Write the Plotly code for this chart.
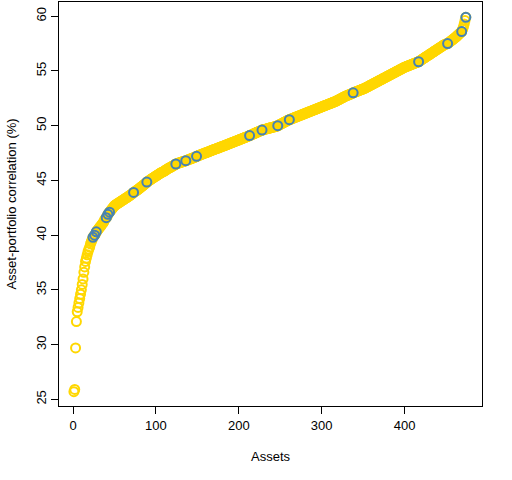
import plotly.graph_objects as go

# sorted asset-portfolio correlations (%), one per asset
correlation = [
    25.7, 25.9, 29.7, 32.1, 33.0, 33.4, 33.8, 34.2, 34.6, 35.0,
    35.5, 36.0, 36.6, 37.1, 37.6, 37.9, 38.2, 38.5, 38.7, 38.9,
    39.2, 39.4, 39.6, 39.8, 39.9, 40.0, 40.1, 40.3, 40.4, 40.5,
    40.6, 40.7, 40.8, 40.9, 41.0, 41.1, 41.2, 41.4, 41.5, 41.6,
    41.7, 41.9, 42.0, 42.1, 42.2, 42.3, 42.4, 42.5, 42.6, 42.7,
    42.75, 42.8, 42.86, 42.9, 42.95, 43.0, 43.04, 43.1, 43.15, 43.2,
    43.24, 43.3, 43.35, 43.4, 43.44, 43.5, 43.55, 43.6, 43.66, 43.7,
    43.76, 43.82, 43.9, 43.95, 44.0, 44.05, 44.1, 44.16, 44.2, 44.27,
    44.33, 44.4, 44.45, 44.5, 44.58, 44.64, 44.7, 44.76, 44.85, 44.9,
    44.95, 45.0, 45.05, 45.1, 45.16, 45.2, 45.25, 45.3, 45.36, 45.4,
    45.45, 45.5, 45.55, 45.6, 45.64, 45.7, 45.73, 45.77, 45.8, 45.85,
    45.9, 45.95, 46.0, 46.05, 46.1, 46.14, 46.18, 46.22, 46.26, 46.3,
    46.35, 46.4, 46.45, 46.5, 46.52, 46.55, 46.58, 46.6, 46.63, 46.65,
    46.68, 46.7, 46.73, 46.75, 46.78, 46.8, 46.83, 46.86, 46.89, 46.92,
    46.95, 46.98, 47.0, 47.03, 47.06, 47.09, 47.12, 47.16, 47.2, 47.23,
    47.26, 47.3, 47.32, 47.35, 47.38, 47.41, 47.44, 47.47, 47.5, 47.52,
    47.55, 47.58, 47.61, 47.64, 47.67, 47.7, 47.73, 47.76, 47.79, 47.82,
    47.85, 47.88, 47.9, 47.93, 47.96, 47.99, 48.02, 48.05, 48.08, 48.1,
    48.13, 48.16, 48.19, 48.22, 48.25, 48.28, 48.31, 48.34, 48.37, 48.4,
    48.43, 48.46, 48.49, 48.52, 48.55, 48.58, 48.61, 48.64, 48.67, 48.7,
    48.73, 48.76, 48.79, 48.82, 48.85, 48.88, 48.91, 48.94, 48.97, 49.0,
    49.03, 49.06, 49.1, 49.13, 49.16, 49.2, 49.23, 49.26, 49.3, 49.33,
    49.36, 49.4, 49.43, 49.46, 49.5, 49.53, 49.56, 49.6, 49.62, 49.64,
    49.66, 49.68, 49.7, 49.72, 49.74, 49.76, 49.78, 49.8, 49.82, 49.84,
    49.86, 49.88, 49.9, 49.92, 49.94, 49.97, 50.0, 50.04, 50.08, 50.12,
    50.16, 50.2, 50.24, 50.28, 50.32, 50.36, 50.4, 50.44, 50.48, 50.52,
    50.55, 50.58, 50.61, 50.64, 50.67, 50.7, 50.73, 50.76, 50.79, 50.82,
    50.85, 50.88, 50.91, 50.94, 50.97, 51.0, 51.03, 51.06, 51.09, 51.12,
    51.15, 51.18, 51.21, 51.24, 51.27, 51.3, 51.33, 51.36, 51.39, 51.42,
    51.45, 51.48, 51.51, 51.54, 51.57, 51.6, 51.63, 51.66, 51.69, 51.72,
    51.75, 51.78, 51.81, 51.84, 51.87, 51.9, 51.93, 51.96, 51.99, 52.02,
    52.05, 52.08, 52.11, 52.14, 52.17, 52.2, 52.23, 52.27, 52.31, 52.35,
    52.39, 52.43, 52.47, 52.51, 52.55, 52.59, 52.63, 52.67, 52.7, 52.74,
    52.77, 52.8, 52.83, 52.86, 52.89, 52.92, 52.96, 53.0, 53.03, 53.06,
    53.09, 53.12, 53.15, 53.18, 53.21, 53.24, 53.27, 53.3, 53.33, 53.36,
    53.39, 53.42, 53.46, 53.5, 53.54, 53.58, 53.62, 53.66, 53.7, 53.74,
    53.78, 53.82, 53.86, 53.9, 53.94, 53.98, 54.02, 54.06, 54.1, 54.14,
    54.18, 54.22, 54.26, 54.3, 54.34, 54.38, 54.42, 54.46, 54.5, 54.54,
    54.58, 54.62, 54.66, 54.7, 54.74, 54.78, 54.82, 54.86, 54.9, 54.94,
    54.98, 55.02, 55.06, 55.1, 55.14, 55.18, 55.22, 55.26, 55.3, 55.34,
    55.37, 55.4, 55.43, 55.46, 55.49, 55.52, 55.55, 55.58, 55.61, 55.64,
    55.67, 55.7, 55.73, 55.76, 55.79, 55.82, 55.84, 55.89, 55.94, 55.99,
    56.05, 56.1, 56.15, 56.2, 56.25, 56.3, 56.35, 56.4, 56.45, 56.5,
    56.55, 56.6, 56.65, 56.7, 56.75, 56.8, 56.85, 56.9, 56.95, 57.0,
    57.05, 57.1, 57.15, 57.2, 57.25, 57.3, 57.35, 57.4, 57.43, 57.46,
    57.48, 57.5, 57.56, 57.62, 57.68, 57.74, 57.8, 57.86, 57.92, 57.98,
    58.04, 58.1, 58.17, 58.24, 58.31, 58.38, 58.45, 58.52, 58.6, 58.8,
    59.0, 59.3, 59.6, 59.9,
]
assets = list(range(1, len(correlation) + 1))

# assets that are in the portfolio (1-based positions in the sorted list)
held = [24, 26, 28, 40, 42, 44, 73, 89, 124, 136, 149, 213, 228, 247,
        261, 338, 417, 452, 469, 474]
held_y = [correlation[i - 1] for i in held]

fig = go.Figure()
fig.add_trace(go.Scatter(
    x=assets, y=correlation, mode="markers",
    marker=dict(symbol="circle-open", size=9, color="#FFD700",
                line=dict(width=2, color="#FFD700")),
    showlegend=False))
fig.add_trace(go.Scatter(
    x=held, y=held_y, mode="markers",
    marker=dict(symbol="circle-open", size=9, color="#4682B4",
                line=dict(width=2, color="#4682B4")),
    showlegend=False))

axis_style = dict(showgrid=False, zeroline=False, showline=True, mirror=True,
                  linecolor="black", linewidth=1, ticks="outside", ticklen=7,
                  tickcolor="black", tickfont=dict(size=13, color="black"))

fig.update_xaxes(range=[-17, 493.5], tickvals=[0, 100, 200, 300, 400],
                 title=dict(text="Assets", font=dict(size=13, color="black"), standoff=20),
                 **axis_style)
fig.update_yaxes(range=[24.39, 61.3], tickvals=[25, 30, 35, 40, 45, 50, 55, 60],
                 tickangle=-90,
                 title=dict(text="Asset-portfolio correlation (%)",
                            font=dict(size=13, color="black"), standoff=14),
                 **axis_style)

fig.update_layout(width=512, height=480, plot_bgcolor="white", paper_bgcolor="white",
                  font=dict(family="Liberation Sans, Arial, sans-serif"),
                  margin=dict(l=59, r=30, t=2, b=74, autoexpand=False))

fig.write_html("out.html", config={"displayModeBar": False},
               post_script="document.body.style.margin='0';")
